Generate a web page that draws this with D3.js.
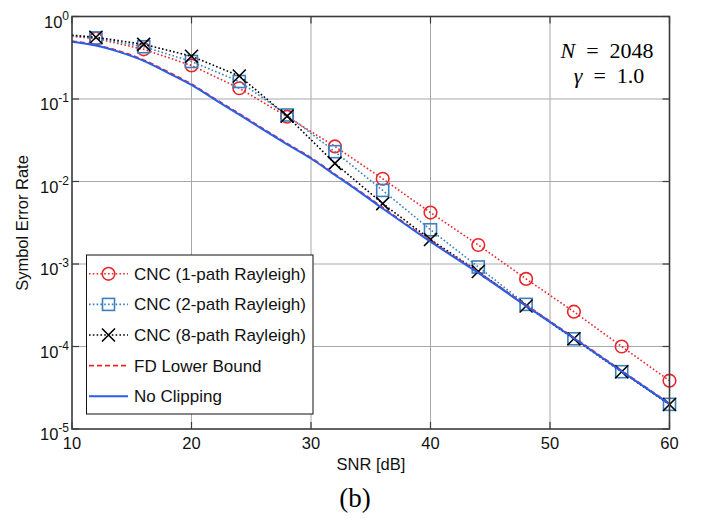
<!DOCTYPE html>
<html>
<head>
<meta charset="utf-8">
<script src="https://cdn.jsdelivr.net/npm/d3@7"></script>
<style>
  html, body { margin: 0; padding: 0; background: #fff; }
  svg { display: block; font-family: "Liberation Sans", Arial, Helvetica, sans-serif; }
  .serif { font-family: "Liberation Serif", "Times New Roman", serif; }
</style>
</head>
<body>
<svg id="chart" width="708" height="519"></svg>
<script>
// SNR grid for the simulated CNC curves (markers from 12 dB on)
const snrCnc = [10, 12, 16, 20, 24, 28, 32, 36, 40, 44, 48, 52, 56, 60];
const cnc1Path = [0.575, 0.54, 0.40, 0.255, 0.135, 0.061, 0.0266, 0.0108, 0.0042, 0.0017, 6.6e-4, 2.64e-4, 1.0e-4, 3.85e-5];
const cnc2Path = [0.585, 0.55, 0.43, 0.285, 0.163, 0.064, 0.023, 0.0078, 0.0026, 9.2e-4, 3.24e-4, 1.24e-4, 4.95e-5, 1.99e-5];
const cnc8Path = [0.595, 0.56, 0.46, 0.33, 0.19, 0.062, 0.0166, 0.0054, 0.00198, 8.1e-4, 3.1e-4, 1.24e-4, 4.95e-5, 1.98e-5];

// SNR grid for the analytical curves
const snrRef = [10, 12, 14, 16, 18, 20, 22, 24, 26, 28, 30, 32, 34, 36, 38, 40, 44, 48, 52, 56, 60];
const fdLowerBound = [0.505, 0.452, 0.38, 0.298, 0.215, 0.152, 0.1, 0.0665, 0.0437, 0.029, 0.0195, 0.0123, 0.0078, 0.00485, 0.00303, 0.00191, 8.0e-4, 3.18e-4, 1.29e-4, 5.1e-5, 2.04e-5];
const noClipping = [0.495, 0.445, 0.37, 0.29, 0.209, 0.148, 0.0975, 0.0646, 0.0425, 0.0282, 0.019, 0.012, 0.0076, 0.0047, 0.00295, 0.00186, 7.8e-4, 3.1e-4, 1.26e-4, 5.0e-5, 2.0e-5];

const xTicks = [10, 20, 30, 40, 50, 60];
const yExponents = [0, -1, -2, -3, -4, -5];
const legendLabels = ["CNC (1-path Rayleigh)", "CNC (2-path Rayleigh)", "CNC (8-path Rayleigh)", "FD Lower Bound", "No Clipping"];

const red = "#e8262b", sqBlue = "#3a7fbf", lineBlue = "#2a5ee8", axisCol = "#3a3a3a", gridCol = "#a8a8a8";

const svg = d3.select("#chart");
const plot = { left: 72, right: 669.5, top: 16.5, bottom: 429 };

const x = d3.scaleLinear().domain([10, 60]).range([plot.left, plot.right]);
const y = d3.scaleLog().domain([1e-5, 1]).range([plot.bottom, plot.top]);

// grid
const grid = svg.append("g");
grid.selectAll("line.gx").data(xTicks.slice(1, -1)).join("line")
  .attr("x1", d => x(d)).attr("x2", d => x(d))
  .attr("y1", plot.top).attr("y2", plot.bottom)
  .attr("stroke", gridCol).attr("stroke-width", 1);
grid.selectAll("line.gy").data(yExponents.slice(1, -1)).join("line")
  .attr("x1", plot.left).attr("x2", plot.right)
  .attr("y1", d => y(Math.pow(10, d))).attr("y2", d => y(Math.pow(10, d)))
  .attr("stroke", gridCol).attr("stroke-width", 1);

// inward ticks on all four sides
const tickLen = 7;
const ticks = svg.append("g").attr("stroke", axisCol).attr("stroke-width", 1.2);
xTicks.forEach(t => {
  ticks.append("line").attr("x1", x(t)).attr("x2", x(t)).attr("y1", plot.bottom).attr("y2", plot.bottom - tickLen);
  ticks.append("line").attr("x1", x(t)).attr("x2", x(t)).attr("y1", plot.top).attr("y2", plot.top + tickLen);
});
yExponents.forEach(e => {
  const yy = y(Math.pow(10, e));
  ticks.append("line").attr("x1", plot.left).attr("x2", plot.left + tickLen).attr("y1", yy).attr("y2", yy);
  ticks.append("line").attr("x1", plot.right).attr("x2", plot.right - tickLen).attr("y1", yy).attr("y2", yy);
});

// series
const lineLin = d3.line().x(d => x(d[0])).y(d => y(d[1]));
const lineSmooth = d3.line().x(d => x(d[0])).y(d => y(d[1])).curve(d3.curveMonotoneX);

const series = [
  { vals: cnc1Path, color: red, marker: "circle" },
  { vals: cnc2Path, color: sqBlue, marker: "square" },
  { vals: cnc8Path, color: "#000", marker: "cross" }
];

const dotted = "1.6,2.2";
const plotG = svg.append("g");

function drawMarker(g, type, cx, cy, color) {
  if (type === "circle") {
    g.append("circle").attr("cx", cx).attr("cy", cy).attr("r", 6.3)
      .attr("fill", "none").attr("stroke", color).attr("stroke-width", 1.6);
  } else if (type === "square") {
    g.append("rect").attr("x", cx - 6).attr("y", cy - 6).attr("width", 12).attr("height", 12)
      .attr("fill", "none").attr("stroke", color).attr("stroke-width", 1.6);
  } else {
    const s = 6.5;
    g.append("path").attr("d", `M${cx - s},${cy - s}L${cx + s},${cy + s}M${cx - s},${cy + s}L${cx + s},${cy - s}`)
      .attr("fill", "none").attr("stroke", color).attr("stroke-width", 1.6);
  }
}

series.forEach(s => {
  const pts = snrCnc.map((v, i) => [v, s.vals[i]]);
  plotG.append("path").attr("d", lineLin(pts))
    .attr("fill", "none").attr("stroke", s.color).attr("stroke-width", 1.6)
    .attr("stroke-dasharray", dotted);
  pts.slice(1).forEach(p => drawMarker(plotG, s.marker, x(p[0]), y(p[1]), s.color));
});

plotG.append("path").attr("d", lineSmooth(snrRef.map((v, i) => [v, fdLowerBound[i]])))
  .attr("fill", "none").attr("stroke", red).attr("stroke-width", 1.6).attr("stroke-dasharray", "5,3");
plotG.append("path").attr("d", lineSmooth(snrRef.map((v, i) => [v, noClipping[i]])))
  .attr("fill", "none").attr("stroke", lineBlue).attr("stroke-width", 2);

// axes box
svg.append("rect").attr("x", plot.left).attr("y", plot.top)
  .attr("width", plot.right - plot.left).attr("height", plot.bottom - plot.top)
  .attr("fill", "none").attr("stroke", axisCol).attr("stroke-width", 1.6);

// tick labels
const fs = 16.5;
xTicks.forEach(t => {
  svg.append("text").attr("x", x(t)).attr("y", plot.bottom + 19.5)
    .attr("text-anchor", "middle").attr("font-size", fs).attr("fill", "#111").text(t);
});
yExponents.forEach(e => {
  const yy = y(Math.pow(10, e));
  const t = svg.append("text").attr("x", plot.left - 3).attr("y", yy + 11)
    .attr("text-anchor", "end").attr("font-size", fs).attr("fill", "#111");
  t.append("tspan").text("10");
  t.append("tspan").attr("font-size", 12).attr("dy", -8).text(e === 0 ? "0" : "-" + (-e));
});

// axis titles
svg.append("text").attr("x", 371).attr("y", 470).attr("text-anchor", "middle")
  .attr("font-size", 16.5).attr("fill", "#111").text("SNR [dB]");
svg.append("text").attr("transform", "translate(28,223) rotate(-90)").attr("text-anchor", "middle")
  .attr("font-size", 16.5).attr("fill", "#111").text("Symbol Error Rate");
svg.append("text").attr("class", "serif").attr("x", 355).attr("y", 507).attr("text-anchor", "middle")
  .attr("font-size", 27).attr("fill", "#000").text("(b)");

// parameter annotation
const ann = svg.append("g").attr("class", "serif").attr("font-size", 22).attr("fill", "#000");
const a1 = ann.append("text").attr("x", 607).attr("y", 57.5).attr("text-anchor", "middle");
a1.append("tspan").attr("font-style", "italic").text("N");
a1.append("tspan").text("\u2002=\u20022048");
const a2 = ann.append("text").attr("x", 609).attr("y", 83).attr("text-anchor", "middle");
a2.append("tspan").attr("font-style", "italic").text("\u03B3");
a2.append("tspan").text("\u2002=\u20021.0");

// legend
const lg = svg.append("g");
lg.append("rect").attr("x", 86.5).attr("y", 255).attr("width", 226.5).attr("height", 159)
  .attr("fill", "#fff").attr("stroke", "#111").attr("stroke-width", 1);
const legendStyles = [
  { color: red, dash: dotted, marker: "circle", w: 1.6 },
  { color: sqBlue, dash: dotted, marker: "square", w: 1.6 },
  { color: "#000", dash: dotted, marker: "cross", w: 1.6 },
  { color: red, dash: "5,3", marker: null, w: 1.6 },
  { color: lineBlue, dash: null, marker: null, w: 2 }
];
legendLabels.forEach((lab, i) => {
  const yy = 273.8 + i * 30.6;
  const st = legendStyles[i];
  const ln = lg.append("line").attr("x1", 89).attr("x2", 128).attr("y1", yy).attr("y2", yy)
    .attr("stroke", st.color).attr("stroke-width", st.w);
  if (st.dash) ln.attr("stroke-dasharray", st.dash);
  if (st.marker) drawMarker(lg, st.marker, 108.5, yy, st.color);
  lg.append("text").attr("x", 134).attr("y", yy + 6).attr("font-size", 17).attr("fill", "#111").text(lab);
});
</script>
</body>
</html>
